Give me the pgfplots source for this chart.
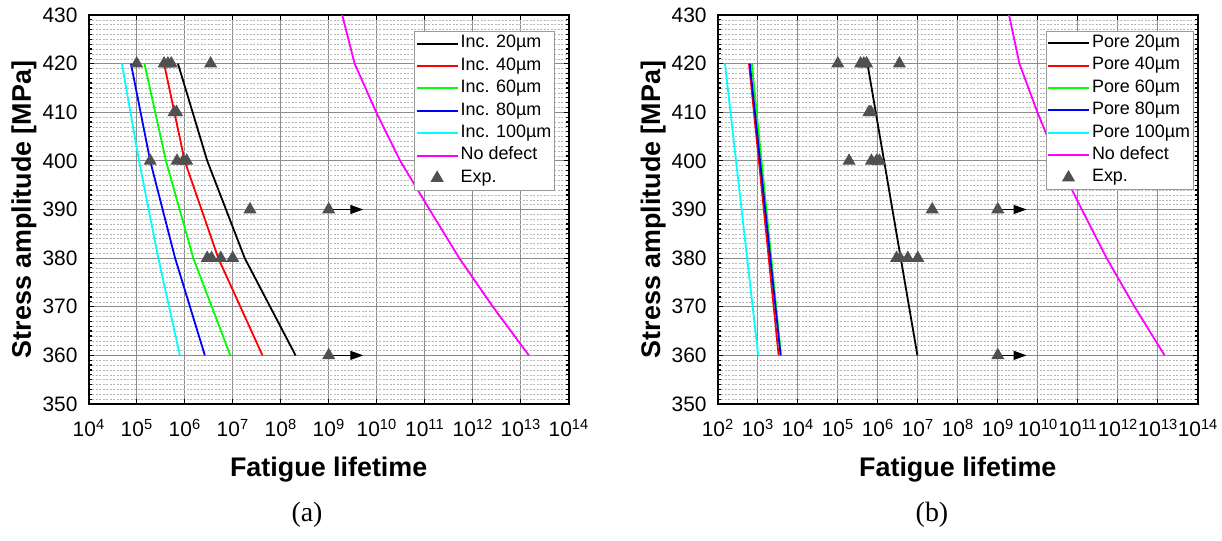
\documentclass[border=0pt]{standalone}
\usepackage{pgfplots}
\pgfplotsset{compat=1.18}
\usepackage{fontspec}
\setmainfont{Liberation Sans}
\newfontfamily\serif{Liberation Serif}
\usetikzlibrary{arrows.meta}
\definecolor{expgray}{HTML}{505050}
\definecolor{cgreen}{HTML}{00FF00}
\definecolor{ccyan}{HTML}{00FFFF}
\definecolor{cmag}{HTML}{FF00FF}
\newcommand{\tenp}[1]{10\textsuperscript{#1}}
\pgfplotsset{
  expleg/.style={legend image code/.code={\draw[mark repeat=2,mark phase=2,##1] plot coordinates {(0bp,0bp) (20.5bp,0bp) (41bp,0bp)};}},
  lineleg/.style={legend image code/.code={\draw[##1,line width=2bp] (0bp,0bp) -- (41bp,0bp);}},
}
\begin{document}
\begin{tikzpicture}
\path[use as bounding box] (0,0) rectangle (1222bp,541bp);
% (a)
\begin{axis}[at={(88.7bp,137bp)}, anchor=south west,
    scale only axis, width=480bp, height=389bp,
    xmode=log, log basis x=10,
    ymin=350, ymax=430, ytick={350,360,...,430}, minor y tick num=9,
    grid=both,
    major grid style={line width=0.8bp, color=black!45},
    minor grid style={line width=0.5bp, color=black!28, dash pattern=on 2bp off 1.5bp},
    axis line style={line width=2.2bp, black},
    tick style={line width=1.2bp, black},
    major tick length=5bp, minor tick length=3bp,
    yticklabel style={/pgf/number format/assume math mode=true},
    tick label style={font=\fontsize{21}{24}\selectfont},
    yticklabel style={inner sep=0bp, xshift=-11bp},
    xticklabel style={inner sep=0bp, yshift=-15bp},
    label style={font=\bfseries\fontsize{27}{30}\selectfont},
    ylabel style={at={(axis description cs:-0.1347,0.5)}, anchor=center},
    xlabel style={at={(axis description cs:0.5,-0.168)}, anchor=center},
    xlabel={Fatigue lifetime}, ylabel={Stress amplitude [MPa]},
    legend cell align=left,
    legend style={draw=black!40, line width=0.8bp, fill=white,
      font=\fontsize{18}{21.6}\selectfont, inner xsep=1bp, inner ysep=1.5bp,
      row sep=1bp,
      nodes={inner sep=2bp, text height=13bp, text depth=4.4bp}},
    every axis plot/.append style={line width=1.8bp, lineleg},
  xmin=1e4, xmax=1e14,
  xtick={1e4,1e5,1e6,1e7,1e8,1e9,1e10,1e11,1e12,1e13,1e14},
  xticklabels={\tenp{4},\tenp{5},\tenp{6},\tenp{7},\tenp{8},\tenp{9},\tenp{10},\tenp{11},\tenp{12},\tenp{13},\tenp{14}},
  legend style={at={(rel axis cs:0.971,0.959)}, anchor=north east}]
\addplot[black] coordinates {(7.24e5,420) (2.95e6,400) (1.78e7,380) (2.04e8,360)};
\addlegendentry{Inc. 20µm}
\addplot[red] coordinates {(3.72e5,420) (1.0e6,400) (5.01e6,380) (4.17e7,360)};
\addlegendentry{Inc. 40µm}
\addplot[cgreen] coordinates {(1.45e5,420) (4.07e5,400) (1.51e6,380) (8.91e6,360)};
\addlegendentry{Inc. 60µm}
\addplot[blue] coordinates {(7.59e4,420) (1.91e5,400) (6.31e5,380) (2.63e6,360)};
\addlegendentry{Inc. 80µm}
\addplot[ccyan] coordinates {(4.90e4,420) (1.12e5,400) (2.82e5,380) (7.94e5,360)};
\addlegendentry{Inc. 100µm}
\addplot[cmag] coordinates {(1.91e9,430) (3.47e9,420) (9.77e9,410) (3.09e10,400) (1.26e11,390) (5.25e11,380) (2.63e12,370) (1.48e13,360)};
\addlegendentry{No defect}
\addplot[black, line width=1.1bp, -{Triangle[length=13bp,width=9bp]}, forget plot] coordinates {(1e9,390) (5.25e9,390)};
\addplot[black, line width=1.1bp, -{Triangle[length=13bp,width=9bp]}, forget plot] coordinates {(1e9,360) (5.25e9,360)};
\addplot[only marks, mark=triangle*, mark size=5.8bp, color=expgray, expleg] coordinates {
 (1.0e5,420) (3.72e5,420) (4.47e5,420) (5.25e5,420) (3.47e6,420)
 (6.03e5,410) (6.76e5,410)
 (1.91e5,400) (6.92e5,400) (9.33e5,400) (1.10e6,400)
 (2.29e7,390) (1.0e9,390)
 (2.95e6,380) (3.63e6,380) (5.62e6,380) (1.0e7,380)
 (1.0e9,360)};
\addlegendentry{Exp.}
\end{axis}
% (b)
\begin{axis}[at={(717.8bp,137bp)}, anchor=south west,
    scale only axis, width=480bp, height=389bp,
    xmode=log, log basis x=10,
    ymin=350, ymax=430, ytick={350,360,...,430}, minor y tick num=9,
    grid=both,
    major grid style={line width=0.8bp, color=black!45},
    minor grid style={line width=0.5bp, color=black!28, dash pattern=on 2bp off 1.5bp},
    axis line style={line width=2.2bp, black},
    tick style={line width=1.2bp, black},
    major tick length=5bp, minor tick length=3bp,
    yticklabel style={/pgf/number format/assume math mode=true},
    tick label style={font=\fontsize{21}{24}\selectfont},
    yticklabel style={inner sep=0bp, xshift=-11bp},
    xticklabel style={inner sep=0bp, yshift=-15bp},
    label style={font=\bfseries\fontsize{27}{30}\selectfont},
    ylabel style={at={(axis description cs:-0.1347,0.5)}, anchor=center},
    xlabel style={at={(axis description cs:0.5,-0.168)}, anchor=center},
    xlabel={Fatigue lifetime}, ylabel={Stress amplitude [MPa]},
    legend cell align=left,
    legend style={draw=black!40, line width=0.8bp, fill=white,
      font=\fontsize{18}{21.6}\selectfont, inner xsep=1bp, inner ysep=1.5bp,
      row sep=1bp,
      nodes={inner sep=2bp, text height=13bp, text depth=4.4bp}},
    every axis plot/.append style={line width=1.8bp, lineleg},
  xmin=1e2, xmax=1e14,
  xtick={1e2,1e3,1e4,1e5,1e6,1e7,1e8,1e9,1e10,1e11,1e12,1e13,1e14},
  xticklabels={\tenp{2},\tenp{3},\tenp{4},\tenp{5},\tenp{6},\tenp{7},\tenp{8},\tenp{9},\tenp{10},\tenp{11},\tenp{12},\tenp{13},\tenp{14}},
  legend style={at={(rel axis cs:0.991,0.960)}, anchor=north east}]
\addplot[black] coordinates {(5.50e5,420) (9.77e6,360)};
\addlegendentry{Pore 20µm}
\addplot[red] coordinates {(603,420) (3311,360)};
\addlegendentry{Pore 40µm}
\addplot[cgreen] coordinates {(708,420) (3802,360)};
\addlegendentry{Pore 60µm}
\addplot[blue] coordinates {(631,420) (3715,360)};
\addlegendentry{Pore 80µm}
\addplot[ccyan] coordinates {(151,420) (1023,360)};
\addlegendentry{Pore 100µm}
\addplot[cmag] coordinates {(1.91e9,430) (3.47e9,420) (9.77e9,410) (3.09e10,400) (1.26e11,390) (5.25e11,380) (2.63e12,370) (1.48e13,360)};
\addlegendentry{No defect}
\addplot[black, line width=1.1bp, -{Triangle[length=13bp,width=9bp]}, forget plot] coordinates {(1e9,390) (5.25e9,390)};
\addplot[black, line width=1.1bp, -{Triangle[length=13bp,width=9bp]}, forget plot] coordinates {(1e9,360) (5.25e9,360)};
\addplot[only marks, mark=triangle*, mark size=5.8bp, color=expgray, expleg] coordinates {
 (1.0e5,420) (3.72e5,420) (4.47e5,420) (5.25e5,420) (3.47e6,420)
 (6.03e5,410) (6.76e5,410)
 (1.91e5,400) (6.92e5,400) (9.33e5,400) (1.10e6,400)
 (2.29e7,390) (1.0e9,390)
 (2.95e6,380) (3.63e6,380) (5.62e6,380) (1.0e7,380)
 (1.0e9,360)};
\addlegendentry{Exp.}
\end{axis}
\node[font=\serif\fontsize{28}{28}\selectfont] at (307bp,26bp) {(a)};
\node[font=\serif\fontsize{28}{28}\selectfont] at (932bp,26bp) {(b)};
\end{tikzpicture}
\end{document}
